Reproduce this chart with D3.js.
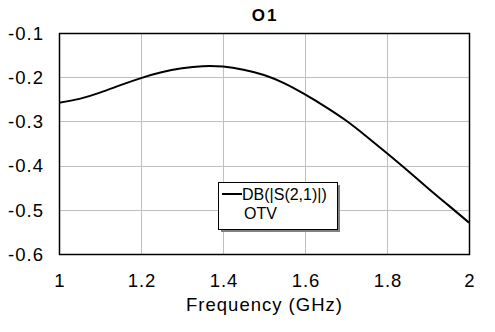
<!DOCTYPE html>
<html>
<head>
<meta charset="utf-8">
<script src="https://cdn.jsdelivr.net/npm/d3@7"></script>
<style>
  html, body { margin: 0; padding: 0; background: #fff; }
  svg { display: block; font-family: "Liberation Sans", Arial, sans-serif; }
</style>
</head>
<body>
<svg id="chart" width="495" height="332"></svg>
<script>
// Swept response of O1: |S21| in dB against frequency
const freqGHz = [1.0, 1.05, 1.1, 1.15, 1.2, 1.25, 1.3, 1.35, 1.4, 1.45, 1.5, 1.55, 1.6, 1.65, 1.7, 1.75, 1.8, 1.85, 1.9, 1.95, 2.0];
const s21dB   = [-0.258, -0.249, -0.235, -0.218, -0.202, -0.189, -0.180, -0.175, -0.176, -0.183, -0.195, -0.214, -0.239, -0.267, -0.298, -0.334, -0.372, -0.411, -0.451, -0.490, -0.529];
const xTicks = [1, 1.2, 1.4, 1.6, 1.8, 2];
const yTicks = [-0.6, -0.5, -0.4, -0.3, -0.2, -0.1];
const legendLines = ["DB(|S(2,1)|)", "OTV"];
const chartTitle = "O1";
const xLabel = "Frequency (GHz)";

const svg = d3.select("#chart");
const plot = { left: 59, right: 469, top: 33, bottom: 254 };

const x = d3.scaleLinear().domain([1, 2]).range([plot.left, plot.right]);
const y = d3.scaleLinear().domain([-0.6, -0.1]).range([plot.bottom, plot.top]);
const plain = d => String(d);

// grid
const grid = svg.append("g").attr("stroke", "#c0c0c0").attr("stroke-width", 1);
grid.selectAll("line.v").data(xTicks.slice(1, -1)).join("line")
  .attr("x1", d => Math.round(x(d)) + 0.5).attr("x2", d => Math.round(x(d)) + 0.5)
  .attr("y1", plot.top).attr("y2", plot.bottom);
grid.selectAll("line.h").data(yTicks.slice(1, -1)).join("line")
  .attr("x1", plot.left).attr("x2", plot.right)
  .attr("y1", d => Math.round(y(d)) + 0.5).attr("y2", d => Math.round(y(d)) + 0.5);

// axes (labels only; frame drawn separately)
const xAxis = svg.append("g")
  .attr("transform", `translate(0,${plot.bottom})`)
  .call(d3.axisBottom(x).tickValues(xTicks).tickSize(0).tickPadding(0).tickFormat(plain));
xAxis.select(".domain").remove();
xAxis.selectAll("text")
  .attr("font-family", "Liberation Sans, Arial, sans-serif")
  .attr("font-size", 18.5).attr("letter-spacing", 1).attr("fill", "#000")
  .attr("dy", null).attr("y", 33).attr("dx", 0.5);

const yAxis = svg.append("g")
  .attr("transform", `translate(${plot.left},0)`)
  .call(d3.axisLeft(y).tickValues(yTicks).tickSize(0).tickPadding(0).tickFormat(plain));
yAxis.select(".domain").remove();
yAxis.selectAll("text")
  .attr("font-family", "Liberation Sans, Arial, sans-serif")
  .attr("font-size", 18.5).attr("letter-spacing", 1).attr("fill", "#000")
  .attr("x", -15).attr("dy", "0.34em");

// data curve
const line = d3.line().x((d, i) => x(freqGHz[i])).y(d => y(d)).curve(d3.curveNatural);
svg.append("path")
  .datum(s21dB)
  .attr("d", line)
  .attr("fill", "none")
  .attr("stroke", "#000")
  .attr("stroke-width", 2);

// plot frame
svg.append("rect")
  .attr("x", plot.left + 0.5).attr("y", plot.top + 0.5)
  .attr("width", plot.right - plot.left).attr("height", plot.bottom - plot.top)
  .attr("fill", "none").attr("stroke", "#000").attr("stroke-width", 1.5);

// title
svg.append("text")
  .attr("x", (plot.left + plot.right) / 2 + 1).attr("y", 21)
  .attr("text-anchor", "middle")
  .attr("font-size", 17).attr("font-weight", "bold")
  .attr("letter-spacing", 2)
  .text(chartTitle);

// x label
svg.append("text")
  .attr("x", (plot.left + plot.right) / 2 + 0.5).attr("y", 311)
  .attr("text-anchor", "middle")
  .attr("font-size", 18.5).attr("letter-spacing", 1)
  .text(xLabel);

// legend
const lg = svg.append("g").attr("transform", "translate(218,182)");
lg.append("rect").attr("x", 3).attr("y", 3).attr("width", 119).attr("height", 47).attr("fill", "#808080");
lg.append("rect").attr("x", 0.5).attr("y", 0.5).attr("width", 119).attr("height", 47)
  .attr("fill", "#fff").attr("stroke", "#000").attr("stroke-width", 1);
lg.append("line").attr("x1", 4).attr("x2", 24).attr("y1", 12).attr("y2", 12)
  .attr("stroke", "#000").attr("stroke-width", 2);
lg.selectAll("text.lt").data(legendLines).join("text")
  .attr("x", (d, i) => i === 0 ? 24 : 26)
  .attr("y", (d, i) => 17.5 + i * 19)
  .attr("font-size", 16)
  .text(d => d);
</script>
</body>
</html>
